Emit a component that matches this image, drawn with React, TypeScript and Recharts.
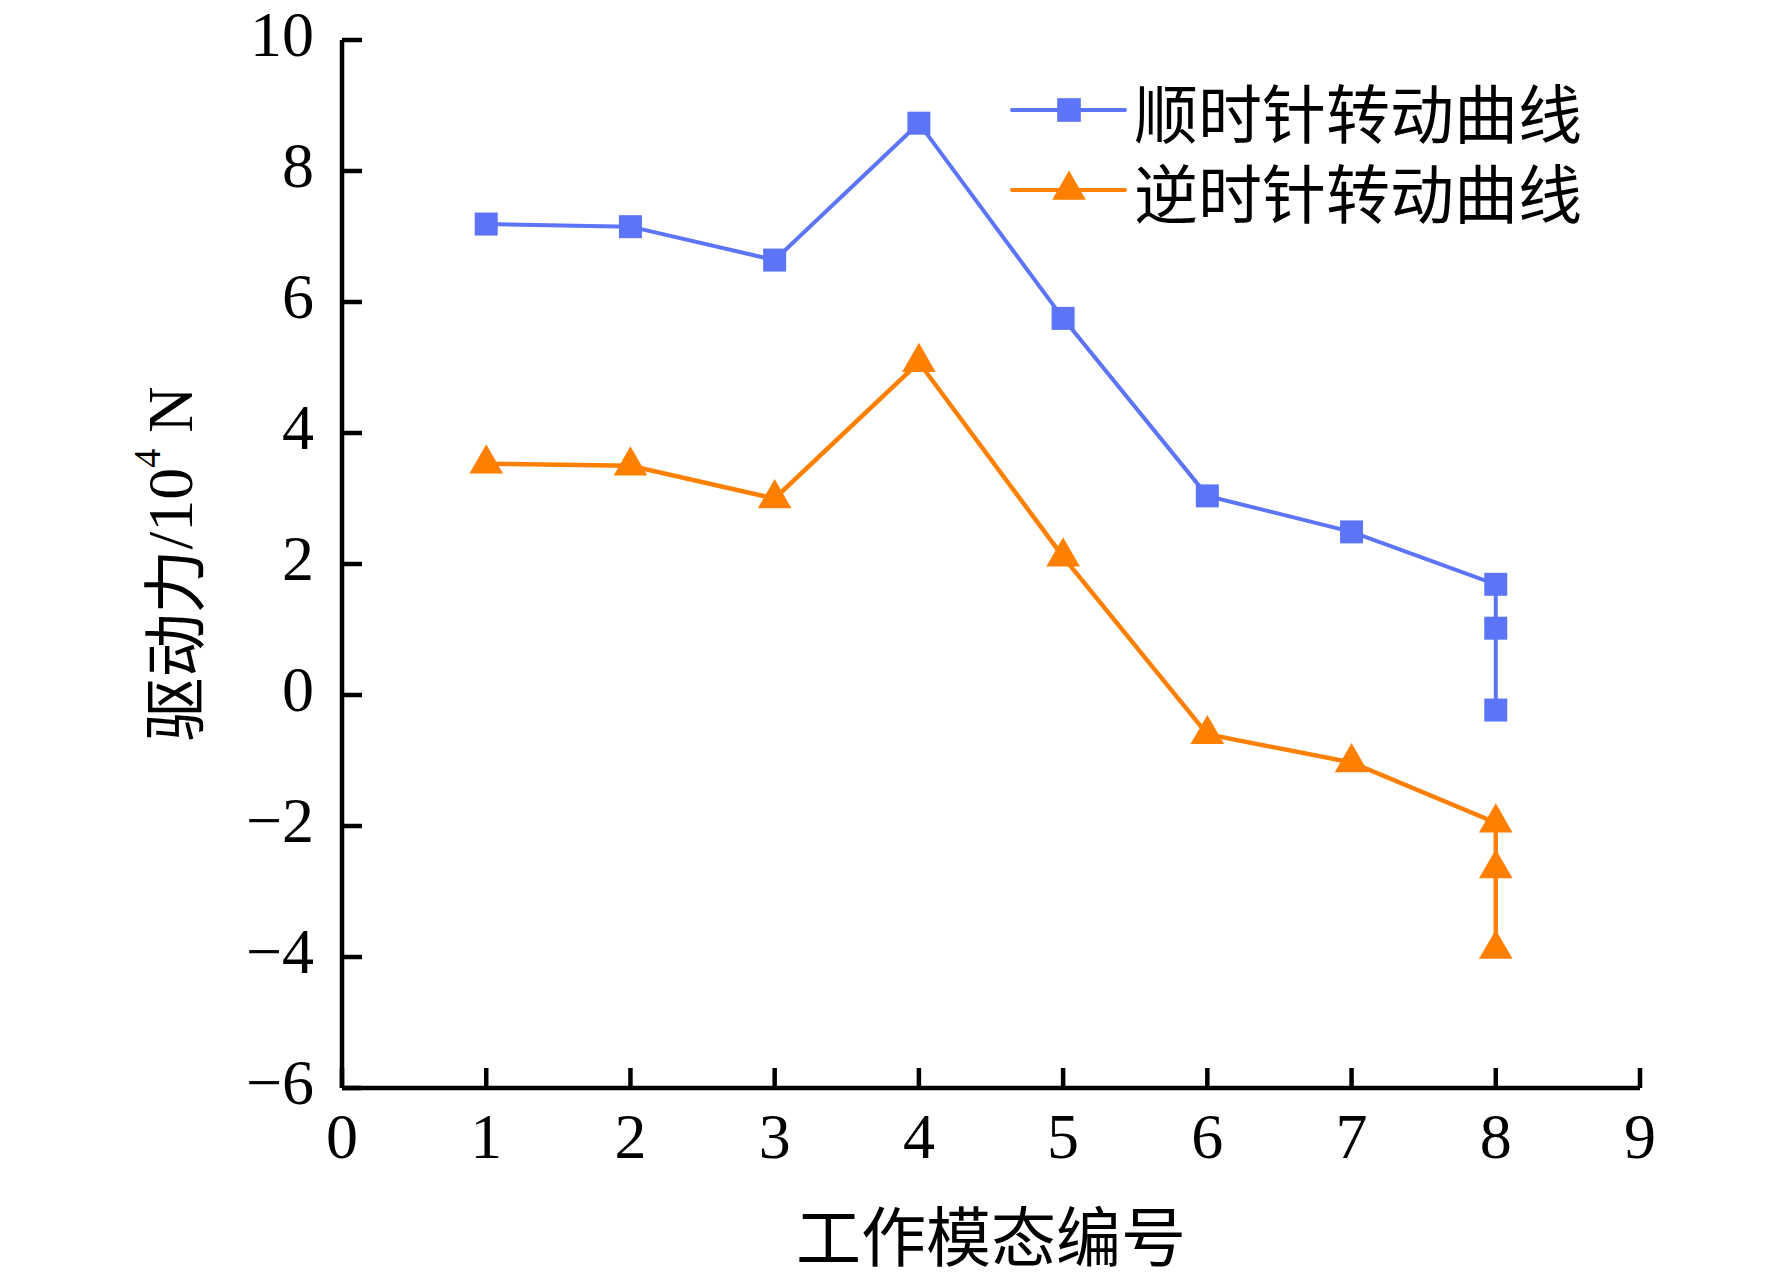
import React from 'react';
import { LineChart, Line, XAxis, YAxis, Legend, Label, Symbols } from 'recharts';

const cwX = [1, 2, 3, 4, 5, 6, 7, 8, 8, 8];
const cwForce = [7.19, 7.15, 6.64, 8.73, 5.75, 3.04, 2.49, 1.69, 1.02, -0.23];
const ccwX = [1, 2, 3, 4, 5, 6, 7, 8, 8, 8];
const ccwForce = [3.53, 3.5, 3.0, 5.08, 2.11, -0.6, -1.03, -1.95, -2.65, -3.88];
const xTicks = [0, 1, 2, 3, 4, 5, 6, 7, 8, 9];
const yTicks = [-6, -4, -2, 0, 2, 4, 6, 8, 10];
const seriesNames = ['顺时针转动曲线', '逆时针转动曲线'];

const cwData = cwX.map((x, i) => ({ x, y: cwForce[i] }));
const ccwData = ccwX.map((x, i) => ({ x, y: ccwForce[i] }));

const BLUE = '#5b74f8';
const ORANGE = '#ff8000';
const FONT = "'Liberation Serif', 'Noto Sans CJK SC', serif";
const CJK = "'Noto Sans CJK SC', 'Liberation Serif', sans-serif";

const fmt = (v: number) => String(v).replace('-', '\u2212');

const XTick = (props: any) => {
  const { x, payload } = props;
  return (
    <text x={x} y={1158} textAnchor="middle" fontFamily={FONT} fontSize={64} fill="#000">
      {fmt(payload.value)}
    </text>
  );
};

const YTick = (props: any) => {
  const { y, payload } = props;
  return (
    <text x={314} y={y + 16} textAnchor="end" fontFamily={FONT} fontSize={64} fill="#000">
      {fmt(payload.value)}
    </text>
  );
};

const squareDot = (props: any) => (
  <Symbols key={`s${props.index}`} cx={props.cx} cy={props.cy} type="square" size={529} fill={BLUE} />
);
const triangleDot = (props: any) => (
  <Symbols key={`t${props.index}`} cx={props.cx} cy={props.cy} type="triangle" size={490} fill={ORANGE} />
);

// legend sits inside the plot, top right
const LegendBox = () => (
  <svg width={720} height={260} style={{ display: 'block', overflow: 'visible' }}>
    {[BLUE, ORANGE].map((c, i) => {
      const cy = 80 + i * 80;
      return (
        <g key={c}>
          <line x1={2} x2={115} y1={cy} y2={cy} stroke={c} strokeWidth={4} strokeLinecap="round" />
          <Symbols cx={59} cy={cy} type={i === 0 ? 'square' : 'triangle'} size={i === 0 ? 560 : 490} fill={c} />
          <text x={124} y={cy} dominantBaseline="central" fontFamily={CJK} fontSize={64} fill="#000">
            {seriesNames[i]}
          </text>
        </g>
      );
    })}
  </svg>
);

const XTitle = (props: any) => {
  const vb = props.viewBox;
  return (
    <text x={vb.x + vb.width / 2} y={1233} textAnchor="middle" dominantBaseline="central" fontFamily={CJK} fontSize={65} fill="#000">
      工作模态编号
    </text>
  );
};

const YTitle = () => (
  <text
    x={170}
    y={564}
    transform="rotate(-90 170 564)"
    textAnchor="middle"
    dominantBaseline="central"
    fontFamily={FONT}
    fontSize={64}
    fill="#000"
  >
    <tspan fontFamily={CJK}>驱动力</tspan>
    <tspan>/10</tspan>
    <tspan fontSize={38} dy={-23}>4</tspan>
    <tspan dy={23}> N</tspan>
  </text>
);

const axisStyle = { stroke: '#000', strokeWidth: 4.5 };

export default function App() {
  return (
    <div style={{ position: 'absolute', left: 0, top: 0, background: '#fff' }}>
      <LineChart width={1772} height={1280} margin={{ top: 40, right: 132, bottom: 0, left: 0 }}>
        <XAxis
          xAxisId="b"
          type="number"
          dataKey="x"
          domain={[0, 9]}
          ticks={xTicks}
          allowDuplicatedCategory
          height={192}
          axisLine={axisStyle}
          tickLine={axisStyle}
          tickSize={-20}
          tick={<XTick />}
          interval={0}
        >
          <Label content={<XTitle />} />
        </XAxis>
        <XAxis
          xAxisId="t"
          orientation="top"
          type="number"
          dataKey="x"
          domain={[0, 9]}
          ticks={xTicks}
          height={0}
          axisLine={axisStyle}
          tickLine={axisStyle}
          tickSize={-20}
          tick={false}
          interval={0}
        />
        <YAxis
          yAxisId="l"
          type="number"
          domain={[-6, 10]}
          ticks={yTicks}
          width={342}
          axisLine={axisStyle}
          tickLine={axisStyle}
          tickSize={-20}
          tick={<YTick />}
          interval={0}
        >
          <Label content={<YTitle />} />
        </YAxis>
        <YAxis
          yAxisId="r"
          orientation="right"
          type="number"
          domain={[-6, 10]}
          ticks={yTicks}
          width={0}
          axisLine={axisStyle}
          tickLine={axisStyle}
          tickSize={-20}
          tick={false}
          interval={0}
        />
        <Legend
          layout="vertical"
          verticalAlign="middle"
          align="center"
          content={<LegendBox />}
          wrapperStyle={{ position: 'absolute', left: 1010, top: 30, width: 720, height: 260 }}
        />
        <Line
          xAxisId="b"
          yAxisId="l"
          data={cwData}
          dataKey="y"
          name={seriesNames[0]}
          type="linear"
          stroke={BLUE}
          strokeWidth={4}
          dot={squareDot}
          activeDot={false}
          isAnimationActive={false}
        />
        <Line
          xAxisId="b"
          yAxisId="l"
          data={ccwData}
          dataKey="y"
          name={seriesNames[1]}
          type="linear"
          stroke={ORANGE}
          strokeWidth={4.5}
          dot={triangleDot}
          activeDot={false}
          isAnimationActive={false}
        />
      </LineChart>
    </div>
  );
}
